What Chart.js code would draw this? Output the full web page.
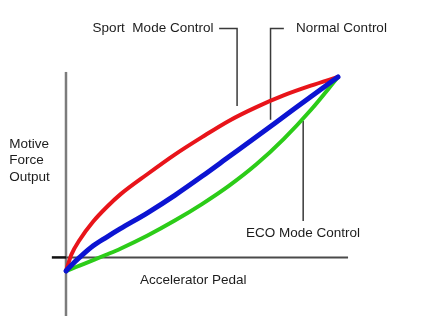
<!DOCTYPE html>
<html>
<head>
<meta charset="utf-8">
<script src="https://cdn.jsdelivr.net/npm/chart.js@4/dist/chart.umd.min.js"></script>
<style>
  html, body { margin: 0; padding: 0; background: #ffffff; }
  #wrap { width: 441px; height: 321px; position: relative; }
</style>
</head>
<body>
<div id="wrap"><canvas id="c"></canvas></div>
<script>
// ---- data ----
const pedal      = [0, 2, 5, 10, 15, 20, 30, 40, 50, 60, 70, 80, 90, 100];
const sportForce = [0, 8.5, 16, 25.5, 33, 39.5, 50, 60, 69, 77.5, 84.5, 90.5, 95.5, 100];
const normalForce= [0, 3, 7, 13, 17.5, 21.8, 30, 39, 48.8, 59, 69.2, 79.5, 89.8, 100];
const ecoForce   = [0, 1.1, 2.8, 5.6, 8.5, 11.5, 18.3, 26, 34.5, 44, 55, 68, 83, 100];

const seriesNames = ['Sport  Mode Control', 'Normal Control', 'ECO Mode Control'];
const xAxisTitle = 'Accelerator Pedal';
const yAxisTitleLines = ['Motive', 'Force', 'Output'];

const pts = (xs, ys) => xs.map((x, i) => ({x: x, y: ys[i]}));

// helper lines (axes and callout leaders) in data units
const yAxisLine   = [{x: 0, y: -23.2}, {x: 0, y: 102.6}];
const xAxisStub   = [{x: -5.2, y: 7}, {x: 0, y: 7}];
const xAxisLine   = [{x: 0, y: 7}, {x: 103.7, y: 7}];
const sportLeader = [{x: 56.3, y: 125}, {x: 62.9, y: 125}, {x: 62.9, y: 85}];
const normalLeader= [{x: 80.1, y: 125}, {x: 75.2, y: 125}, {x: 75.2, y: 78}];
const ecoLeader   = [{x: 87.2, y: 77.3}, {x: 87.2, y: 25.8}];

const FONT = '13.5px "Liberation Sans", Arial, sans-serif';

const textPlugin = {
  id: 'texts',
  afterDatasetsDraw(chart) {
    const ctx = chart.ctx, xs = chart.scales.x, ys = chart.scales.y;
    ctx.save();
    ctx.font = FONT;
    ctx.fillStyle = '#1c1c1c';
    ctx.textBaseline = 'middle';
    const put = (t, x, y, align) => {
      ctx.textAlign = align;
      ctx.fillText(t, xs.getPixelForValue(x), ys.getPixelForValue(y));
    };
    put(seriesNames[0], 54.2, 125, 'right');
    put(seriesNames[1], 84.6, 125, 'left');
    put(seriesNames[2], 66.2, 19.4, 'left');
    put(xAxisTitle, 27.2, -4.9, 'left');
    const yl = [65.5, 56.9, 48.3];
    yAxisTitleLines.forEach((t, i) => put(t, -20.9, yl[i], 'left'));
    ctx.restore();
  }
};

const helper = (data, color, width, order) => ({
  data: data, borderColor: color, borderWidth: width, pointRadius: 0,
  fill: false, tension: 0, order: order, borderCapStyle: 'butt', borderJoinStyle: 'miter'
});
const curve = (data, color, width, order) => ({
  data: data, borderColor: color, borderWidth: width, pointRadius: 0,
  fill: false, cubicInterpolationMode: 'monotone', order: order, borderCapStyle: 'round'
});

new Chart(document.getElementById('c'), {
  type: 'line',
  data: {
    datasets: [
      helper(yAxisLine, '#7c7c7c', 2.5, 10),
      helper(xAxisLine, '#4a4a4a', 2, 9),
      helper(xAxisStub, '#111111', 2.5, 8),
      helper(sportLeader, '#3a3a3a', 1.5, 7),
      helper(normalLeader, '#3a3a3a', 1.5, 7),
      helper(ecoLeader, '#3a3a3a', 1.5, 7),
      curve(pts(pedal, sportForce), '#e8141a', 4, 3),
      curve(pts(pedal, ecoForce), '#2ccc18', 4, 2),
      curve(pts(pedal, normalForce), '#0c14d2', 5, 1)
    ]
  },
  options: {
    responsive: true,
    maintainAspectRatio: false,
    animation: false,
    layout: { padding: 0 },
    plugins: { legend: { display: false }, tooltip: { enabled: false }, title: { display: false } },
    scales: {
      x: { type: 'linear', display: false, min: -24.26, max: 137.87 },
      y: { type: 'linear', display: false, min: -25.77, max: 139.69 }
    }
  },
  plugins: [textPlugin]
});
</script>
</body>
</html>
